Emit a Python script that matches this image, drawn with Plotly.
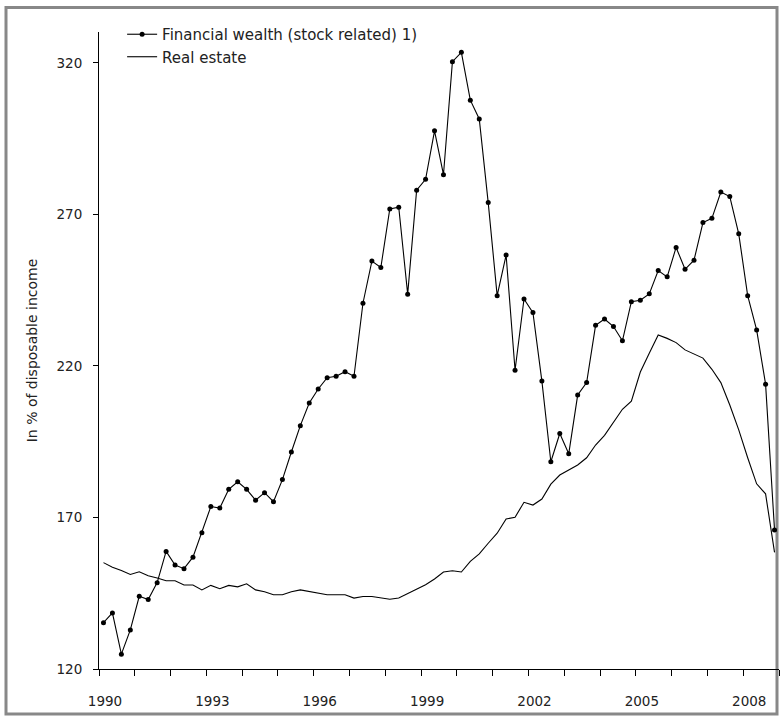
import plotly.graph_objects as go

start_year = 1990
n_quarters = 76

financial_wealth = [
    135.3, 138.5, 124.9, 132.9,
    144.0, 142.9, 148.5, 158.8,
    154.3, 153.1, 156.9, 165.0,
    173.6, 173.1, 179.3, 181.8,
    179.3, 175.7, 178.2, 175.2,
    182.5, 191.6, 200.3, 207.8,
    212.4, 216.1, 216.6, 218.1,
    216.6, 240.7, 254.6, 252.5,
    271.8, 272.4, 243.7, 278.0,
    281.6, 297.6, 283.1, 320.4,
    323.5, 307.7, 301.5, 273.9,
    243.2, 256.6, 218.6, 242.1,
    237.6, 215.0, 188.4, 197.7,
    191.0, 210.4, 214.5, 233.4,
    235.5, 233.0, 228.3, 241.2,
    241.7, 243.8, 251.5, 249.4,
    259.1, 251.9, 254.9, 267.3,
    268.7, 277.4, 275.9, 263.6,
    243.2, 231.9, 214.0, 165.9,
]

real_estate = [
    155.1, 153.6, 152.5, 151.2,
    152.1, 150.8, 150.0, 149.1,
    149.1, 147.7, 147.7, 146.1,
    147.6, 146.5, 147.6, 147.1,
    148.1, 146.1, 145.5, 144.5,
    144.5, 145.5, 146.1, 145.5,
    145.0, 144.5, 144.5, 144.5,
    143.4, 143.9, 143.9, 143.4,
    143.0, 143.4, 144.8, 146.3,
    147.8, 149.7, 152.0, 152.4,
    152.0, 155.5, 158.0, 161.5,
    164.8, 169.5, 170.1, 175.0,
    174.1, 176.1, 181.0, 184.0,
    185.7, 187.3, 189.7, 193.9,
    197.1, 201.6, 205.7, 208.4,
    218.0, 224.2, 230.2, 229.1,
    227.7, 225.3, 223.9, 222.6,
    218.9, 214.5, 207.1, 198.9,
    189.7, 181.1, 177.8, 158.5,
]

x_tick_years = [1990, 1993, 1996, 1999, 2002, 2005, 2008]
x_minor_years = list(range(1990, 2010))
y_ticks = [120, 170, 220, 270, 320]

# quarter mid-points as decimal years
quarters = [start_year + (i + 0.5) / 4 for i in range(n_quarters)]

FONT = "DejaVu Sans"
TXT = "#222222"

fig = go.Figure()
fig.add_trace(go.Scatter(
    x=quarters, y=financial_wealth, mode="lines+markers",
    name="Financial wealth (stock related) 1)",
    line=dict(color="black", width=1.1),
    marker=dict(color="black", size=5),
))
fig.add_trace(go.Scatter(
    x=quarters, y=real_estate, mode="lines",
    name="Real estate",
    line=dict(color="black", width=1.1),
))

L, R, T, B = 99, 4, 32, 51
W, H = 783, 720
pw, ph = W - L - R, H - T - B


def px2paper(px, py):
    return (px - L) / pw, (H - B - py) / ph


x0, y0 = px2paper(6, 7.5)
x1, y1 = px2paper(777, 714)
fig.add_shape(type="rect", xref="paper", yref="paper",
              x0=x0, y0=y1, x1=x1, y1=y0,
              line=dict(color="#888888", width=3), layer="below")

fig.update_layout(
    width=W, height=H,
    margin=dict(l=L, r=R, t=T, b=B),
    paper_bgcolor="white", plot_bgcolor="white",
    font=dict(family=FONT, size=13, color=TXT),
    showlegend=True,
    legend=dict(x=0.034, y=1.022, xanchor="left", yanchor="top",
                bgcolor="rgba(0,0,0,0)", font=dict(size=15, color=TXT),
                tracegroupgap=0, itemwidth=30),
    xaxis=dict(
        range=[1990, 2009], showgrid=False, zeroline=False,
        showline=True, linecolor="black", linewidth=1,
        tickmode="array", tickvals=x_tick_years,
        ticktext=[str(y) for y in x_tick_years],
        ticks="outside", ticklen=6, tickcolor="black",
        ticklabelstandoff=14, ticklabelshift=6,
        minor=dict(tickmode="array", tickvals=x_minor_years,
                   ticks="outside", ticklen=6, tickcolor="black"),
        tickfont=dict(size=13.5, color=TXT),
    ),
    yaxis=dict(
        range=[120, 330.2], showgrid=False, zeroline=False,
        showline=True, linecolor="black", linewidth=1,
        tickmode="array", tickvals=y_ticks,
        ticktext=[str(v) for v in y_ticks],
        ticks="outside", ticklen=5, tickcolor="black",
        ticklabelstandoff=8,
        tickfont=dict(size=13.5, color=TXT),
        title=dict(text="In % of disposable income", standoff=15,
                   font=dict(size=14, color=TXT)),
    ),
)

fig.write_html("out.html", config={"displayModeBar": False},
               post_script="document.body.style.margin='0';")
